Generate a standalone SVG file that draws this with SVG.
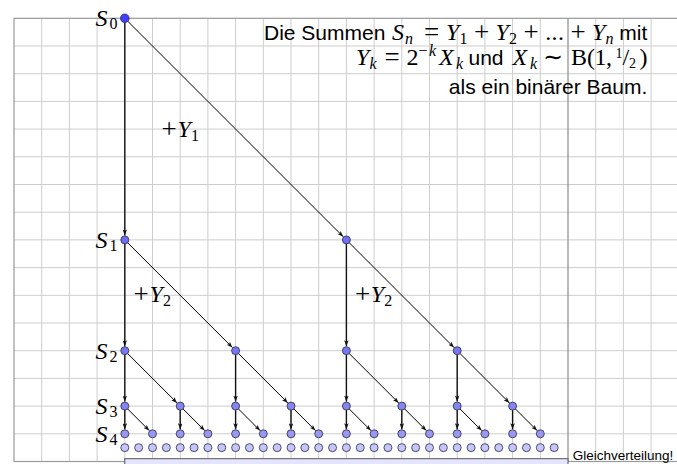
<svg xmlns="http://www.w3.org/2000/svg" width="677" height="464" viewBox="0 0 677 464">
<style>
.grid{fill:none;stroke:#cdcdcd;stroke-width:1}
.border{fill:none;stroke:#9a9a9a;stroke-width:1.2}
.sep{stroke:#8a8a8a;stroke-width:1.2}
.dist{fill:#e4e4ff;stroke:#555;stroke-width:1}
.v{fill:none;stroke:#111;stroke-width:1.4;marker-end:url(#ah)}
.d{fill:none;stroke:#000;stroke-width:1;marker-end:url(#ah)}
circle{stroke:#2a2a48;stroke-width:0.8}
.c0{fill:#3f3fff}
.c1{fill:#6f6ff4}
.c2{fill:#7777f2}
.c3{fill:#8585f0}
.c4{fill:#9898f2}
.c5{fill:#c6c6fa}
.sans{font-family:"Liberation Sans",Arial,sans-serif;font-size:21px;fill:#000}
.small{font-size:13.5px}
.math{font-family:"Liberation Serif","Times New Roman",serif;font-size:24px;fill:#000}
.mi{font-style:italic}
.mr{font-style:normal}
.op{font-size:27px;font-style:normal}
.sub{font-size:16px}
.fr{font-size:14px;font-style:normal}
</style>
<defs>
<marker id="ah" viewBox="0 0 8 6" refX="8" refY="3" markerWidth="6" markerHeight="4.5" markerUnits="userSpaceOnUse" orient="auto"><path d="M0,0L8,3L0,6L2,3z" fill="#111"/></marker>
</defs>
<rect width="677" height="464" fill="#fff"/>
<g id="grid">
<path class="grid" d="M41.7,18.3V461.5M69.4,18.3V461.5M97.1,18.3V461.5M124.8,18.3V461.5M152.5,18.3V461.5M180.2,18.3V461.5M207.9,18.3V461.5M235.6,18.3V461.5M263.3,18.3V461.5M291,18.3V461.5M318.7,18.3V461.5M346.4,18.3V461.5M374.1,18.3V461.5M401.8,18.3V461.5M429.5,18.3V461.5M457.2,18.3V461.5M484.9,18.3V461.5M512.6,18.3V461.5M540.3,18.3V461.5M595.7,18.3V461.5M623.4,18.3V461.5M651.1,18.3V461.5M14,46H678.8M14,73.7H678.8M14,101.4H678.8M14,129.1H678.8M14,156.8H678.8M14,184.5H678.8M14,212.2H678.8M14,239.9H678.8M14,267.6H678.8M14,295.3H678.8M14,323H678.8M14,350.7H678.8M14,378.4H678.8M14,406.1H678.8M14,433.8H678.8"/>
<rect class="border" x="14" y="18.3" width="664.8" height="443.2"/>
<line class="sep" x1="568" y1="18.3" x2="568" y2="461.5"/>
<rect class="dist" x="124.8" y="458.7" width="443.2" height="12"/>
</g>
<g id="connectors">
<path class="v" d="M124.8,22.6V235.4"/>
<path class="d" d="M127.8,21.3L343.2,236.7"/>
<path class="v" d="M124.8,243.9V346.2"/>
<path class="v" d="M346.4,243.9V346.2"/>
<path class="d" d="M127.6,242.7L232.4,347.5"/>
<path class="d" d="M349.2,242.7L454,347.5"/>
<path class="v" d="M124.8,354.7V401.6"/>
<path class="v" d="M235.6,354.7V401.6"/>
<path class="v" d="M346.4,354.7V401.6"/>
<path class="v" d="M457.2,354.7V401.6"/>
<path class="d" d="M127.6,353.5L177,402.9"/>
<path class="d" d="M238.4,353.5L287.8,402.9"/>
<path class="d" d="M349.2,353.5L398.6,402.9"/>
<path class="d" d="M460,353.5L509.4,402.9"/>
<path class="v" d="M124.8,410.1V429.3"/>
<path class="v" d="M180.2,410.1V429.3"/>
<path class="v" d="M235.6,410.1V429.3"/>
<path class="v" d="M291,410.1V429.3"/>
<path class="v" d="M346.4,410.1V429.3"/>
<path class="v" d="M401.8,410.1V429.3"/>
<path class="v" d="M457.2,410.1V429.3"/>
<path class="v" d="M512.6,410.1V429.3"/>
<path class="d" d="M127.6,408.9L149.3,430.6"/>
<path class="d" d="M183,408.9L204.7,430.6"/>
<path class="d" d="M238.4,408.9L260.1,430.6"/>
<path class="d" d="M293.8,408.9L315.5,430.6"/>
<path class="d" d="M349.2,408.9L370.9,430.6"/>
<path class="d" d="M404.6,408.9L426.3,430.6"/>
<path class="d" d="M460,408.9L481.7,430.6"/>
<path class="d" d="M515.4,408.9L537.1,430.6"/>
</g>
<g id="edge-labels">
<text class="math"><tspan class="op" x="161.6" y="137.9">+</tspan><tspan class="mi" x="177.5" y="136.7">Y</tspan><tspan class="mr sub" x="191" y="140.5">1</tspan></text>
<text class="math"><tspan class="op" x="133.6" y="302.9">+</tspan><tspan class="mi" x="149.5" y="301.7">Y</tspan><tspan class="mr sub" x="163" y="305.5">2</tspan></text>
<text class="math"><tspan class="op" x="354.9" y="302.9">+</tspan><tspan class="mi" x="370.8" y="301.7">Y</tspan><tspan class="mr sub" x="384.3" y="305.5">2</tspan></text>
</g>
<g id="n0"><circle class="c0" cx="124.8" cy="18.3" r="4.3"/><text class="math"><tspan class="mi" x="95.5" y="26">S</tspan><tspan class="mr sub" x="109.5" y="29">0</tspan></text></g>
<g id="n1-0"><circle class="c1" cx="124.8" cy="239.9" r="4"/><text class="math"><tspan class="mi" x="95.5" y="247.7">S</tspan><tspan class="mr sub" x="109.5" y="250.7">1</tspan></text></g>
<g id="n1-1"><circle class="c1" cx="346.4" cy="239.9" r="4"/></g>
<g id="n2-0"><circle class="c2" cx="124.8" cy="350.7" r="4"/><text class="math"><tspan class="mi" x="95.5" y="358.5">S</tspan><tspan class="mr sub" x="109.5" y="361.5">2</tspan></text></g>
<g id="n2-1"><circle class="c2" cx="235.6" cy="350.7" r="4"/></g>
<g id="n2-2"><circle class="c2" cx="346.4" cy="350.7" r="4"/></g>
<g id="n2-3"><circle class="c2" cx="457.2" cy="350.7" r="4"/></g>
<g id="n3-0"><circle class="c3" cx="124.8" cy="406.1" r="4"/><text class="math"><tspan class="mi" x="95.5" y="413.8">S</tspan><tspan class="mr sub" x="109.5" y="416.8">3</tspan></text></g>
<g id="n3-1"><circle class="c3" cx="180.2" cy="406.1" r="4"/></g>
<g id="n3-2"><circle class="c3" cx="235.6" cy="406.1" r="4"/></g>
<g id="n3-3"><circle class="c3" cx="291" cy="406.1" r="4"/></g>
<g id="n3-4"><circle class="c3" cx="346.4" cy="406.1" r="4"/></g>
<g id="n3-5"><circle class="c3" cx="401.8" cy="406.1" r="4"/></g>
<g id="n3-6"><circle class="c3" cx="457.2" cy="406.1" r="4"/></g>
<g id="n3-7"><circle class="c3" cx="512.6" cy="406.1" r="4"/></g>
<g id="n4-00"><circle class="c4" cx="124.8" cy="433.8" r="4"/><text class="math"><tspan class="mi" x="95.5" y="441.5">S</tspan><tspan class="mr sub" x="109.5" y="444.5">4</tspan></text></g>
<g id="n4-01"><circle class="c4" cx="152.5" cy="433.8" r="4"/></g>
<g id="n4-02"><circle class="c4" cx="180.2" cy="433.8" r="4"/></g>
<g id="n4-03"><circle class="c4" cx="207.9" cy="433.8" r="4"/></g>
<g id="n4-04"><circle class="c4" cx="235.6" cy="433.8" r="4"/></g>
<g id="n4-05"><circle class="c4" cx="263.3" cy="433.8" r="4"/></g>
<g id="n4-06"><circle class="c4" cx="291" cy="433.8" r="4"/></g>
<g id="n4-07"><circle class="c4" cx="318.7" cy="433.8" r="4"/></g>
<g id="n4-08"><circle class="c4" cx="346.4" cy="433.8" r="4"/></g>
<g id="n4-09"><circle class="c4" cx="374.1" cy="433.8" r="4"/></g>
<g id="n4-10"><circle class="c4" cx="401.8" cy="433.8" r="4"/></g>
<g id="n4-11"><circle class="c4" cx="429.5" cy="433.8" r="4"/></g>
<g id="n4-12"><circle class="c4" cx="457.2" cy="433.8" r="4"/></g>
<g id="n4-13"><circle class="c4" cx="484.9" cy="433.8" r="4"/></g>
<g id="n4-14"><circle class="c4" cx="512.6" cy="433.8" r="4"/></g>
<g id="n4-15"><circle class="c4" cx="540.3" cy="433.8" r="4"/></g>
<g id="n5-00"><circle class="c5" cx="124.8" cy="447.65" r="4"/></g>
<g id="n5-01"><circle class="c5" cx="138.65" cy="447.65" r="4"/></g>
<g id="n5-02"><circle class="c5" cx="152.5" cy="447.65" r="4"/></g>
<g id="n5-03"><circle class="c5" cx="166.35" cy="447.65" r="4"/></g>
<g id="n5-04"><circle class="c5" cx="180.2" cy="447.65" r="4"/></g>
<g id="n5-05"><circle class="c5" cx="194.05" cy="447.65" r="4"/></g>
<g id="n5-06"><circle class="c5" cx="207.9" cy="447.65" r="4"/></g>
<g id="n5-07"><circle class="c5" cx="221.75" cy="447.65" r="4"/></g>
<g id="n5-08"><circle class="c5" cx="235.6" cy="447.65" r="4"/></g>
<g id="n5-09"><circle class="c5" cx="249.45" cy="447.65" r="4"/></g>
<g id="n5-10"><circle class="c5" cx="263.3" cy="447.65" r="4"/></g>
<g id="n5-11"><circle class="c5" cx="277.15" cy="447.65" r="4"/></g>
<g id="n5-12"><circle class="c5" cx="291" cy="447.65" r="4"/></g>
<g id="n5-13"><circle class="c5" cx="304.85" cy="447.65" r="4"/></g>
<g id="n5-14"><circle class="c5" cx="318.7" cy="447.65" r="4"/></g>
<g id="n5-15"><circle class="c5" cx="332.55" cy="447.65" r="4"/></g>
<g id="n5-16"><circle class="c5" cx="346.4" cy="447.65" r="4"/></g>
<g id="n5-17"><circle class="c5" cx="360.25" cy="447.65" r="4"/></g>
<g id="n5-18"><circle class="c5" cx="374.1" cy="447.65" r="4"/></g>
<g id="n5-19"><circle class="c5" cx="387.95" cy="447.65" r="4"/></g>
<g id="n5-20"><circle class="c5" cx="401.8" cy="447.65" r="4"/></g>
<g id="n5-21"><circle class="c5" cx="415.65" cy="447.65" r="4"/></g>
<g id="n5-22"><circle class="c5" cx="429.5" cy="447.65" r="4"/></g>
<g id="n5-23"><circle class="c5" cx="443.35" cy="447.65" r="4"/></g>
<g id="n5-24"><circle class="c5" cx="457.2" cy="447.65" r="4"/></g>
<g id="n5-25"><circle class="c5" cx="471.05" cy="447.65" r="4"/></g>
<g id="n5-26"><circle class="c5" cx="484.9" cy="447.65" r="4"/></g>
<g id="n5-27"><circle class="c5" cx="498.75" cy="447.65" r="4"/></g>
<g id="n5-28"><circle class="c5" cx="512.6" cy="447.65" r="4"/></g>
<g id="n5-29"><circle class="c5" cx="526.45" cy="447.65" r="4"/></g>
<g id="n5-30"><circle class="c5" cx="540.3" cy="447.65" r="4"/></g>
<g id="n5-31"><circle class="c5" cx="554.15" cy="447.65" r="4"/></g>
<g id="title">
<text class="sans" x="264" y="40">Die Summen</text>
<text class="math"><tspan class="mi" x="392" y="40">S</tspan><tspan class="mi sub" x="405" y="44">n</tspan><tspan class="op" x="423.9" y="41.2">=</tspan><tspan class="mi" x="446" y="40">Y</tspan><tspan class="mr sub" x="459.5" y="44">1</tspan><tspan class="op" x="474" y="41.2">+</tspan><tspan class="mi" x="495.6" y="40">Y</tspan><tspan class="mr sub" x="509" y="44">2</tspan><tspan class="op" x="523.4" y="41.2">+</tspan><tspan class="mr" x="545.2" y="40">.</tspan><tspan class="mr" x="551.5" y="40">.</tspan><tspan class="mr" x="557.9" y="40">.</tspan><tspan class="op" x="570.4" y="41.2">+</tspan><tspan class="mi" x="592" y="40">Y</tspan><tspan class="mi sub" x="605.5" y="44">n</tspan></text>
<text class="sans" x="647.3" y="40" text-anchor="end">mit</text>
<text class="math"><tspan class="mi" x="356" y="65">Y</tspan><tspan class="mi sub" x="369.5" y="69">k</tspan><tspan class="op" x="384.4" y="66.2">=</tspan><tspan class="mr" x="406.5" y="65">2</tspan><tspan class="mr sub" x="418.5" y="56">−</tspan><tspan class="mi sub" x="429" y="56">k</tspan><tspan class="mi" x="439" y="65">X</tspan><tspan class="mi sub" x="456" y="69">k</tspan></text>
<text class="sans" x="468.5" y="65">und</text>
<text class="math"><tspan class="mi" x="512.5" y="65">X</tspan><tspan class="mi sub" x="530" y="69">k</tspan></text>
<text class="math" x="553" y="65" text-anchor="middle">∼</text>
<text class="math"><tspan class="mr" x="571" y="65">B</tspan><tspan class="mr" x="587" y="65">(</tspan><tspan class="mr" x="594.5" y="65">1</tspan><tspan class="mr" x="606" y="65">,</tspan><tspan class="fr" x="615.5" y="58">1</tspan><tspan class="mr" x="622.5" y="65">/</tspan><tspan class="fr" x="629" y="68">2</tspan><tspan class="mr" x="639.5" y="65">)</tspan></text>
<text class="sans" x="647.3" y="94" text-anchor="end">als ein binärer Baum.</text>
</g>
<text class="sans small" x="572.7" y="459.5">Gleichverteilung!</text>
</svg>
